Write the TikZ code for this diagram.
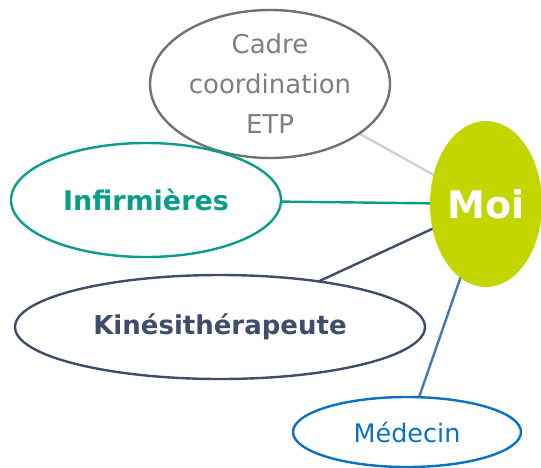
\documentclass[tikz,border=0pt]{standalone}
\usepackage{fontspec}
\setmainfont{DejaVu Sans}
\usetikzlibrary{shapes.geometric}
\definecolor{cgray}{HTML}{737070}
\definecolor{cgraytxt}{HTML}{7F7F7F}
\definecolor{cteal}{HTML}{0A9E8A}
\definecolor{cnavy}{HTML}{3F4D6B}
\definecolor{clime}{HTML}{C4D600}
\definecolor{cblue}{HTML}{0A72C0}
\definecolor{cline}{HTML}{D0D0D0}
\definecolor{cblueline}{HTML}{4A78A8}
\begin{document}
\begin{tikzpicture}[x=1pt,y=-1pt,
  ell/.style={ellipse, line width=2.4pt, inner sep=0pt, fill=white},
  conn/.style={line width=2.4pt}]
\useasboundingbox (0,0) rectangle (541,467);
% connectors first (drawn between node centres, below the ellipses)
\coordinate (cMoi) at (486,204);
\coordinate (cCadre) at (270,84);
\coordinate (cInf) at (146,200);
\coordinate (cKin) at (220,327);
\coordinate (cMed) at (407,432);
\draw[conn, cline] (cCadre) -- (cMoi);
\draw[conn, cteal] (cInf) -- (cMoi);
\draw[conn, cnavy] (cKin) -- (cMoi);
\draw[conn, cblueline] (cMed) -- (cMoi);
% nodes
\node[ell, draw=cgray, minimum width=240pt, minimum height=148pt,
  text=cgraytxt, align=center,
  font=\fontsize{26}{40}\selectfont] (cadre) at (cCadre) {Cadre\\coordination\\ETP};
\node[ell, draw=cteal, minimum width=270pt, minimum height=114pt,
  text=cteal, font=\fontsize{27}{30}\selectfont\bfseries] (inf) at (cInf) {Infirmières};
\node[ell, draw=cnavy, minimum width=410pt, minimum height=104pt,
  text=cnavy, font=\fontsize{26}{30}\selectfont\bfseries] (kin) at (cKin) {Kinésithérapeute};
\node[ell, draw=cblue, minimum width=228pt, minimum height=70pt,
  text=cblue, font=\fontsize{25.5}{30}\selectfont] (med) at (cMed) {Médecin};
\node[ellipse, fill=clime, inner sep=0pt, minimum width=112pt, minimum height=166pt,
  text=white, font=\fontsize{38}{40}\selectfont\bfseries] (moi) at (cMoi) {Moi};
\end{tikzpicture}
\end{document}
